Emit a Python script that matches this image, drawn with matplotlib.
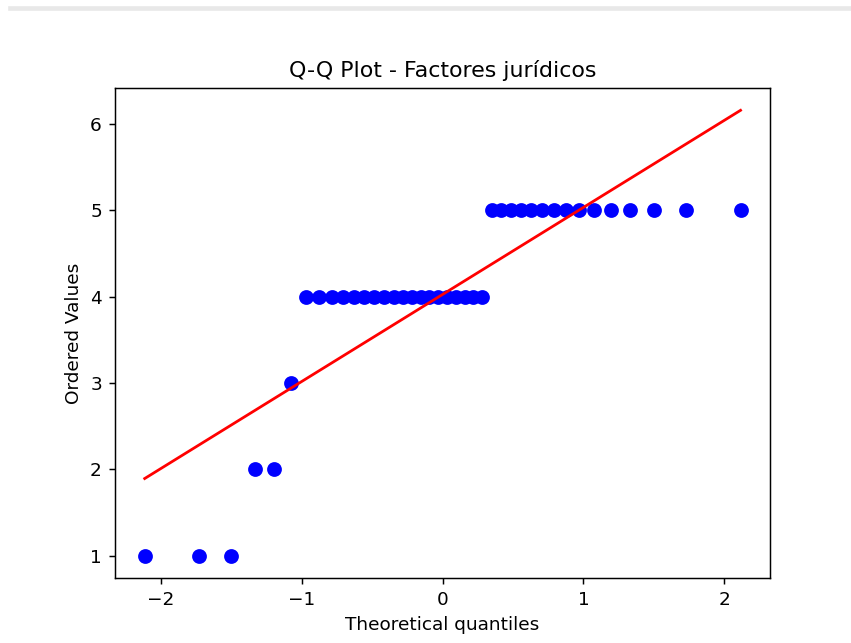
import numpy as np
import matplotlib.pyplot as plt
from matplotlib.lines import Line2D
from statistics import NormalDist

# respuestas ordenadas (escala 1-5), n = 40
niveles = [1, 2, 3, 4, 5]
frecuencias = [3, 2, 1, 19, 15]

valores = np.repeat(niveles, frecuencias).astype(float)
n = len(valores)

# cuantiles teoricos (medianas de Filliben, como scipy.stats.probplot)
m = (np.arange(1, n + 1) - 0.3175) / (n + 0.365)
m[-1] = 0.5 ** (1.0 / n)
m[0] = 1 - m[-1]
osm = np.array([NormalDist().inv_cdf(p) for p in m])

pendiente, intercepto = np.polyfit(osm, valores, 1)

fig = plt.figure(figsize=(6.4, 4.835), dpi=133)
ax = fig.add_axes([0.135, 0.101, 0.77, 0.762])

ax.plot(osm, valores, 'bo', markersize=7)
ax.plot(osm, pendiente * osm + intercepto, 'r-')

ax.set_title("Q-Q Plot - Factores jurídicos")
ax.set_xlabel("Theoretical quantiles")
ax.set_ylabel("Ordered Values")

# franja gris de la captura
fig.add_artist(Line2D([0.012, 1.0], [0.988, 0.988], transform=fig.transFigure,
                      color='#e8e8e8', lw=2.5))

fig.savefig("out.png", dpi=133)
